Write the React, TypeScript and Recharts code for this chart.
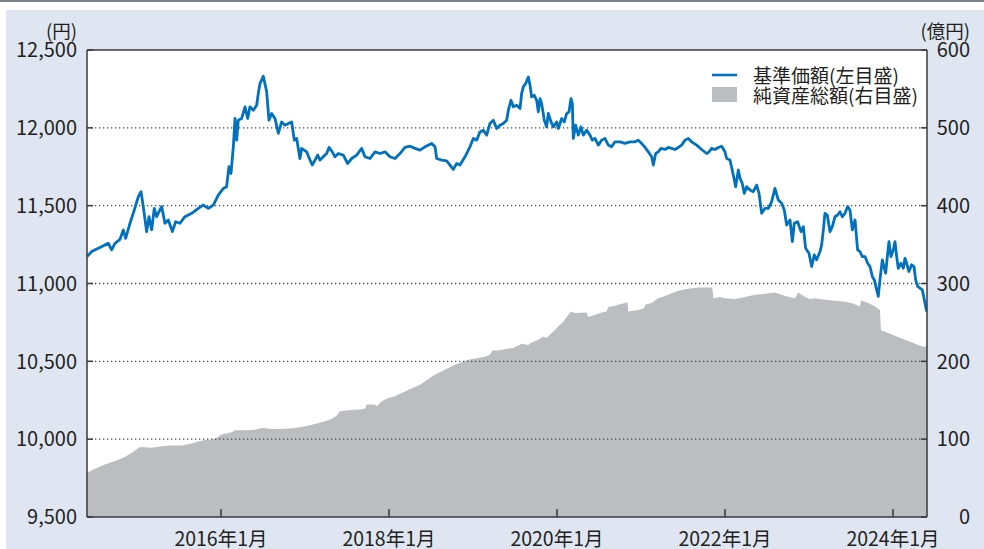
import {
  ComposedChart,
  Line,
  Area,
  XAxis,
  YAxis,
  ReferenceLine,
  Legend,
} from "recharts";

// 基準価額 (円) — 日付は年の小数表記
const PRICE_YEARS = [
  2014.405, 2014.46, 2014.54, 2014.619, 2014.659, 2014.698, 2014.738, 2014.798, 2014.837, 2014.865,
  2014.917, 2014.968, 2015.016, 2015.048, 2015.075, 2015.115, 2015.143, 2015.175, 2015.206, 2015.234,
  2015.262, 2015.294, 2015.333, 2015.373, 2015.421, 2015.46, 2015.512, 2015.571, 2015.651, 2015.73,
  2015.79, 2015.849, 2015.909, 2015.968, 2016.028, 2016.067, 2016.095, 2016.119, 2016.147, 2016.167,
  2016.187, 2016.206, 2016.246, 2016.286, 2016.318, 2016.345, 2016.385, 2016.425, 2016.444, 2016.464,
  2016.504, 2016.544, 2016.571, 2016.603, 2016.643, 2016.683, 2016.722, 2016.762, 2016.802, 2016.841,
  2016.873, 2016.901, 2016.94, 2016.96, 2017.02, 2017.06, 2017.087, 2017.119, 2017.151, 2017.179,
  2017.218, 2017.258, 2017.286, 2017.325, 2017.357, 2017.397, 2017.456, 2017.508, 2017.556, 2017.615,
  2017.675, 2017.714, 2017.774, 2017.833, 2017.893, 2017.952, 2018.012, 2018.071, 2018.131, 2018.19,
  2018.25, 2018.31, 2018.369, 2018.429, 2018.508, 2018.548, 2018.568, 2018.627, 2018.687, 2018.726,
  2018.766, 2018.806, 2018.845, 2018.905, 2018.964, 2019.004, 2019.044, 2019.083, 2019.123, 2019.163,
  2019.202, 2019.242, 2019.282, 2019.321, 2019.361, 2019.401, 2019.421, 2019.452, 2019.48, 2019.52,
  2019.56, 2019.579, 2019.599, 2019.627, 2019.659, 2019.679, 2019.698, 2019.73, 2019.758, 2019.778,
  2019.798, 2019.817, 2019.849, 2019.877, 2019.897, 2019.929, 2019.956, 2019.996, 2020.016, 2020.056,
  2020.087, 2020.115, 2020.143, 2020.167, 2020.183, 2020.194, 2020.222, 2020.254, 2020.286, 2020.313,
  2020.353, 2020.393, 2020.421, 2020.452, 2020.492, 2020.532, 2020.571, 2020.611, 2020.651, 2020.69,
  2020.75, 2020.81, 2020.869, 2020.929, 2020.968, 2021.008, 2021.048, 2021.087, 2021.127, 2021.147,
  2021.175, 2021.206, 2021.238, 2021.286, 2021.325, 2021.365, 2021.405, 2021.444, 2021.484, 2021.524,
  2021.563, 2021.603, 2021.663, 2021.722, 2021.782, 2021.81, 2021.841, 2021.881, 2021.921, 2021.96,
  2022.0, 2022.02, 2022.06, 2022.099, 2022.127, 2022.159, 2022.179, 2022.206, 2022.23, 2022.258,
  2022.298, 2022.337, 2022.377, 2022.405, 2022.437, 2022.476, 2022.516, 2022.556, 2022.595, 2022.635,
  2022.675, 2022.706, 2022.734, 2022.774, 2022.802, 2022.825, 2022.865, 2022.905, 2022.933, 2022.96,
  2023.0, 2023.032, 2023.063, 2023.091, 2023.131, 2023.151, 2023.171, 2023.19, 2023.218, 2023.25,
  2023.278, 2023.31, 2023.341, 2023.369, 2023.397, 2023.429, 2023.46, 2023.488, 2023.516, 2023.548,
  2023.579, 2023.607, 2023.635, 2023.667, 2023.698, 2023.726, 2023.754, 2023.778, 2023.806, 2023.825,
  2023.845, 2023.873, 2023.897, 2023.913, 2023.937, 2023.952, 2023.976, 2024.004, 2024.024, 2024.044,
  2024.063, 2024.095, 2024.123, 2024.143, 2024.163, 2024.19, 2024.222, 2024.25, 2024.27, 2024.294,
  2024.321, 2024.349, 2024.373, 2024.401,
];
const PRICE = [
  11173, 11205, 11226, 11248, 11258, 11216, 11258, 11284, 11344, 11290,
  11387, 11472, 11558, 11590, 11494, 11333, 11429, 11344, 11483, 11429,
  11461, 11494, 11387, 11408, 11333, 11397, 11387, 11429, 11451, 11483,
  11504, 11483, 11504, 11568, 11611, 11622, 11750, 11707, 11878, 12060,
  11921, 12049, 12060, 12135, 12060, 12135, 12113, 12145, 12220, 12284,
  12331, 12231, 12049, 12092, 12060, 11964, 12038, 12017, 12028, 12038,
  11921, 11932, 11803, 11868, 11846, 11793, 11761, 11793, 11825, 11793,
  11814, 11835, 11874, 11846, 11814, 11835, 11825, 11771, 11803, 11825,
  11868, 11814, 11803, 11846, 11835, 11846, 11814, 11803, 11835, 11874,
  11882, 11868, 11857, 11878, 11900, 11878, 11803, 11793, 11788, 11761,
  11733, 11771, 11761, 11814, 11878, 11932, 11921, 11974, 11985, 11953,
  12028, 12049, 11996, 12017, 12028, 12049, 12113, 12177, 12135, 12145,
  12124, 12220, 12263, 12284, 12327, 12274, 12199, 12209, 12177, 12103,
  12188, 12156, 12049, 12006, 12092, 12038, 12006, 12038, 11996, 12060,
  12038, 12092, 12103, 12188, 12156, 11932, 12017, 11953, 12006, 11953,
  11985, 11953, 11921, 11932, 11889, 11921, 11932, 11889, 11878, 11910,
  11910, 11900, 11910, 11910, 11921, 11900, 11874, 11846, 11814, 11761,
  11835, 11846, 11868, 11861, 11874, 11868, 11861, 11874, 11889, 11921,
  11932, 11910, 11889, 11861, 11835, 11846, 11868, 11861, 11874, 11882,
  11846, 11803, 11793, 11697, 11622, 11729, 11675, 11643, 11579, 11622,
  11600, 11590, 11632, 11579, 11451, 11483, 11483, 11526, 11611, 11536,
  11515, 11472, 11376, 11408, 11269, 11387, 11397, 11333, 11365, 11226,
  11194, 11109, 11184, 11152, 11205, 11248, 11344, 11451, 11440, 11333,
  11365, 11429, 11440, 11461, 11429, 11451, 11494, 11472, 11344, 11408,
  11216, 11205, 11173, 11173, 11130, 11109, 11045, 11023, 10959, 10917,
  11023, 11152, 11098, 11066, 11194, 11269, 11173, 11216, 11269, 11173,
  11098, 11130, 11098, 11162, 11130, 11077, 11120, 11109, 11023, 10981,
  10970, 10959, 10895, 10820,
];

// 純資産総額 (億円)
const ASSET_YEARS = [
  2014.405, 2014.5, 2014.619, 2014.738, 2014.857, 2014.937, 2014.996, 2015.036, 2015.175, 2015.294,
  2015.413, 2015.532, 2015.651, 2015.73, 2015.81, 2015.909, 2015.968, 2016.008, 2016.127, 2016.167,
  2016.286, 2016.405, 2016.484, 2016.603, 2016.722, 2016.802, 2016.881, 2017.0, 2017.119, 2017.238,
  2017.317, 2017.377, 2017.417, 2017.516, 2017.635, 2017.714, 2017.734, 2017.833, 2017.853, 2017.913,
  2017.992, 2018.071, 2018.151, 2018.23, 2018.29, 2018.369, 2018.448, 2018.548, 2018.627, 2018.706,
  2018.786, 2018.865, 2018.944, 2019.044, 2019.143, 2019.202, 2019.23, 2019.302, 2019.381, 2019.48,
  2019.579, 2019.659, 2019.698, 2019.778, 2019.837, 2019.877, 2019.956, 2020.016, 2020.075, 2020.135,
  2020.167, 2020.214, 2020.353, 2020.373, 2020.452, 2020.532, 2020.591, 2020.611, 2020.73, 2020.841,
  2020.849, 2020.968, 2021.04, 2021.048, 2021.127, 2021.206, 2021.286, 2021.365, 2021.444, 2021.524,
  2021.603, 2021.683, 2021.849, 2021.861, 2021.94, 2022.0, 2022.119, 2022.238, 2022.357, 2022.476,
  2022.595, 2022.714, 2022.833, 2022.873, 2022.952, 2023.012, 2023.071, 2023.19, 2023.31, 2023.429,
  2023.508, 2023.607, 2023.619, 2023.706, 2023.786, 2023.845, 2023.857, 2023.944, 2024.044, 2024.143,
  2024.242, 2024.321, 2024.381, 2024.405,
];
const ASSET = [
  57, 62, 67.5, 72, 77, 82.4, 87, 90, 89, 91,
  92, 92, 94.4, 97, 99, 100, 103, 106, 109, 111.5,
  111.5, 112, 114.5, 113, 113, 113.6, 114.5, 116.6, 119.6, 123,
  126, 130, 136, 137, 138, 139, 144.4, 144.4, 142, 148.7,
  153, 155, 159.4, 163.6, 166, 170, 175.6, 183, 187, 191.4,
  195.7, 198.7, 202, 204, 206, 208.5, 214, 214, 216, 217,
  222.6, 221, 224.3, 227.7, 232, 230, 238.4, 245, 251, 260,
  264, 262, 262.8, 257, 260, 262.8, 264, 269.6, 272.6, 276,
  264, 266, 268.4, 272.6, 274.8, 281, 284, 287.6, 290.6, 292.7,
  294, 294.8, 294.8, 281, 282.5, 281, 280, 282.5, 285.5, 286.7,
  288.4, 284, 281, 288.4, 282.5, 280, 281, 279, 277.8, 276.5,
  274.8, 270.5, 278, 274.8, 270.5, 266, 240, 236.3, 232, 227.7,
  223.5, 220, 218.3, 221,
];

const X_TICKS = [2016, 2018, 2020, 2022, 2024];
const LEFT_TICKS = [9500, 10000, 10500, 11000, 11500, 12000, 12500];
const RIGHT_TICKS = [0, 100, 200, 300, 400, 500, 600];
const GRID_VALUES = [10000, 10500, 11000, 11500, 12000];

const priceData = PRICE_YEARS.map((t, i) => ({ t, price: PRICE[i] }));
const assetData = ASSET_YEARS.map((t, i) => ({ t, asset: ASSET[i] }));

const FONT = "'Noto Sans CJK JP', 'Noto Sans', sans-serif";
const TEXT = "#231f20";
const AXIS = "#3a3a3a";
const BLUE = "#0071bc";
const GRAY = "#bcbdc1";

const LeftTick = ({ x, y, payload }: any) => (
  <g>
    <line x1={x + 10} x2={x + 16} y1={y} y2={y} stroke={AXIS} strokeWidth={1.5} />
    <text x={x} y={y} dy="0.36em" textAnchor="end" fill={TEXT} fontSize={20} fontFamily={FONT}>
      {Number(payload.value).toLocaleString("en-US")}
    </text>
  </g>
);

const RightTick = ({ x, y, payload }: any) => (
  <g>
    <line x1={x - 10} x2={x - 16} y1={y} y2={y} stroke={AXIS} strokeWidth={1.5} />
    <text x={x + 33} y={y} dy="0.36em" textAnchor="end" fill={TEXT} fontSize={20} fontFamily={FONT}>
      {payload.value}
    </text>
  </g>
);

const BottomTick = ({ x, y, payload }: any) => (
  <g>
    <line x1={x} x2={x} y1={y - 10} y2={y - 18} stroke={AXIS} strokeWidth={1.5} />
    <text x={x} y={y + 12} dy="0.36em" textAnchor="middle" fill={TEXT} fontSize={19.5} fontFamily={FONT}>
      {`${payload.value}年1月`}
    </text>
  </g>
);

const UnitLabel = ({ viewBox, text, dx }: any) => (
  <text
    x={viewBox.x + dx}
    y={viewBox.y - 19}
    dy="0.36em"
    textAnchor="end"
    fill={TEXT}
    fontSize={18.5}
    fontFamily={FONT}
  >
    {text}
  </text>
);

const LegendBox = () => (
  <div style={{ fontFamily: FONT, fontSize: 19, color: TEXT, lineHeight: "20px" }}>
    <div style={{ display: "flex", alignItems: "center", height: 20 }}>
      <svg width={25} height={20} style={{ marginRight: 16 }}>
        <line x1={0} x2={25} y1={10} y2={10} stroke={BLUE} strokeWidth={2.6} />
      </svg>
      <span>基準価額(左目盛)</span>
    </div>
    <div style={{ display: "flex", alignItems: "center", height: 20 }}>
      <svg width={25} height={20} style={{ marginRight: 16 }}>
        <rect x={0} y={2} width={25} height={15} fill={GRAY} />
      </svg>
      <span>純資産総額(右目盛)</span>
    </div>
  </div>
);

export default function App() {
  return (
    <div
      style={{
        position: "fixed",
        left: 0,
        top: 0,
        width: 984,
        height: 549,
        background: "#ffffff",
        overflow: "hidden",
      }}
    >
      <div style={{ position: "absolute", left: 0, top: 0, width: 984, height: 2, background: "#7c828a" }} />
      <div style={{ position: "absolute", left: 6, top: 10, right: 0, bottom: 0, background: "#dfe6f2" }} />
      <div style={{ position: "absolute", left: 87, top: 50, width: 840, height: 467, background: "#ffffff" }} />
      <div style={{ position: "absolute", left: 0, top: 0 }}>
        <ComposedChart width={984} height={549} margin={{ top: 50, right: 0, bottom: 0, left: 0 }}>
          <XAxis
            dataKey="t"
            type="number"
            domain={[2014.405, 2024.405]}
            allowDataOverflow
            ticks={X_TICKS}
            tick={<BottomTick />}
            tickLine={false}
            tickSize={8}
            tickMargin={2}
            height={32}
            axisLine={{ stroke: AXIS, strokeWidth: 1.5 }}
          />
          <YAxis
            yAxisId="left"
            domain={[9500, 12500]}
            ticks={LEFT_TICKS}
            interval={0}
            width={87}
            tick={<LeftTick />}
            tickLine={false}
            tickSize={8}
            tickMargin={2}
            axisLine={{ stroke: AXIS, strokeWidth: 1.5 }}
            label={<UnitLabel text="(円)" dx={77} />}
          />
          <YAxis
            yAxisId="right"
            orientation="right"
            domain={[0, 600]}
            ticks={RIGHT_TICKS}
            interval={0}
            width={57}
            tick={<RightTick />}
            tickLine={false}
            tickSize={8}
            tickMargin={2}
            axisLine={{ stroke: AXIS, strokeWidth: 1.5 }}
            label={<UnitLabel text="(億円)" dx={43} />}
          />
          <Area
            yAxisId="right"
            data={assetData}
            dataKey="asset"
            type="linear"
            fill={GRAY}
            fillOpacity={1}
            stroke="none"
            isAnimationActive={false}
          />
          {GRID_VALUES.map((v) => (
            <ReferenceLine
              key={v}
              yAxisId="left"
              y={v}
              stroke="#4a4a4a"
              strokeWidth={1.4}
              strokeDasharray="1.3 2.7"
            />
          ))}
          <ReferenceLine yAxisId="left" y={12500} stroke={AXIS} strokeWidth={1.5} />
          <Line
            yAxisId="left"
            data={priceData}
            dataKey="price"
            type="linear"
            stroke={BLUE}
            strokeWidth={2.8}
            strokeLinejoin="round"
            dot={false}
            activeDot={false}
            isAnimationActive={false}
          />
          <Legend
            layout="vertical"
            verticalAlign="middle"
            align="center"
            content={<LegendBox />}
            wrapperStyle={{ position: "absolute", left: 712, top: 65, width: 230 }}
          />
        </ComposedChart>
      </div>
    </div>
  );
}
